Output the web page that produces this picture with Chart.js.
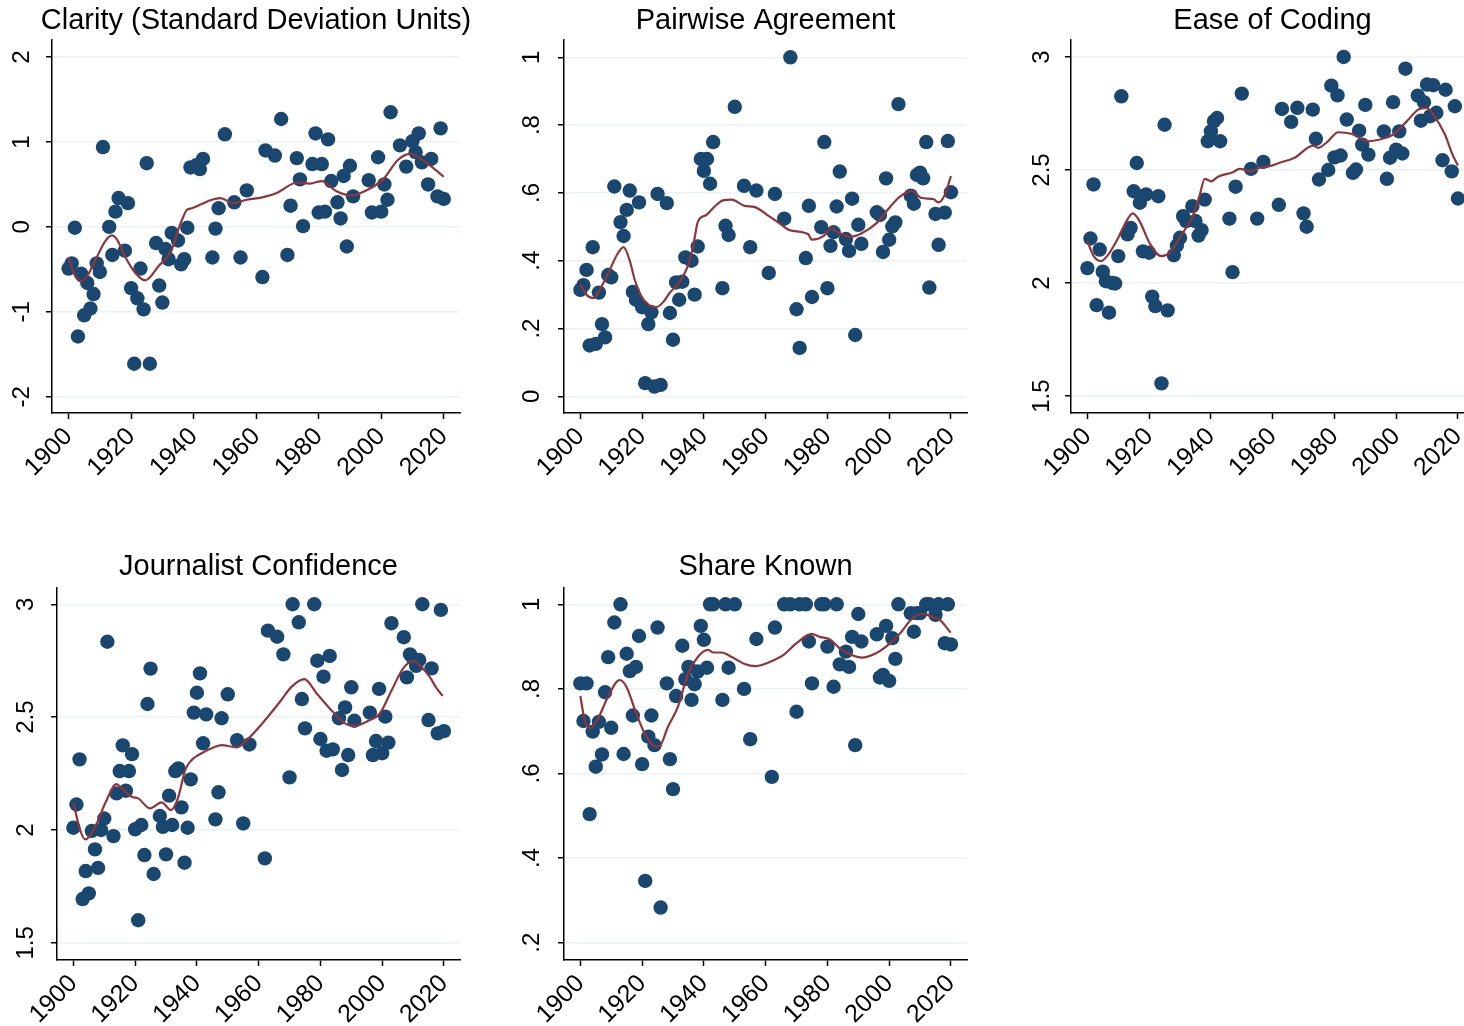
<!DOCTYPE html>
<html>
<head>
<meta charset="utf-8">
<script src="https://cdn.jsdelivr.net/npm/chart.js@4.4.0/dist/chart.umd.min.js"></script>
<style>
  html, body { margin: 0; padding: 0; background: #fff; overflow: hidden; }
  #page { position: relative; width: 1464px; height: 1026px; }
  canvas { position: absolute; }
</style>
</head>
<body>
<div id="page">
  <canvas id="clarity" width="490" height="500" style="left:0px;top:0px"></canvas>
  <canvas id="pairwise" width="490" height="500" style="left:500px;top:0px"></canvas>
  <canvas id="ease" width="480" height="500" style="left:1010px;top:0px"></canvas>
  <canvas id="journalist" width="490" height="480" style="left:0px;top:546px"></canvas>
  <canvas id="share" width="490" height="480" style="left:500px;top:546px"></canvas>
</div>
<script>
// x axis ticks (shared)
const yearTicks = [1900, 1920, 1940, 1960, 1980, 2000, 2020];
const yearTickLabels = ['1900', '1920', '1940', '1960', '1980', '2000', '2020'];

// Clarity (Standard Deviation Units)
const clarityYears = [1900, 1901, 1902, 1903, 1904, 1905, 1906, 1907, 1908, 1909, 1910, 1911, 1913, 1914, 1915, 1916, 1918, 1919, 1920, 1921,
  1922, 1923, 1924, 1925, 1926, 1928, 1929, 1930, 1931, 1932, 1933, 1935, 1936, 1937, 1938, 1939, 1941, 1942, 1943, 1946,
  1947, 1948, 1950, 1953, 1955, 1957, 1962, 1963, 1966, 1968, 1970, 1971, 1973, 1974, 1975, 1978, 1979, 1980, 1981, 1982,
  1983, 1984, 1986, 1987, 1988, 1989, 1990, 1991, 1996, 1997, 1999, 2000, 2001, 2002, 2003, 2006, 2008, 2010, 2011, 2012,
  2013, 2015, 2016, 2018, 2019, 2020];
const clarityValues = [-0.49, -0.43, -0.01, -1.29, -0.55, -1.04, -0.66, -0.96, -0.79, -0.43, -0.53, 0.94, 0.00, -0.33, 0.18, 0.34, -0.28, 0.28, -0.72, -1.61,
  -0.84, -0.49, -0.97, 0.75, -1.61, -0.19, -0.69, -0.89, -0.26, -0.38, -0.07, -0.16, -0.44, -0.38, -0.01, 0.70, 0.73, 0.68, 0.80, -0.36,
  -0.02, 0.22, 1.09, 0.29, -0.36, 0.43, -0.59, 0.90, 0.84, 1.27, -0.33, 0.25, 0.81, 0.56, 0.01, 0.74, 1.10, 0.17, 0.74, 0.18,
  1.03, 0.54, 0.29, 0.10, 0.60, -0.23, 0.72, 0.36, 0.55, 0.17, 0.82, 0.18, 0.50, 0.32, 1.35, 0.96, 0.71, 1.01, 0.88, 1.10,
  0.76, 0.50, 0.80, 0.36, 1.16, 0.33];
const clarityFitYears = [1900, 1901.6, 1903.7, 1905.9, 1909.1, 1911.7, 1913.9, 1915.5, 1918.1, 1921.3, 1924.5, 1926.1, 1928.8, 1930.9, 1933, 1935.1,
  1936.7, 1937.8, 1939.4, 1942.6, 1945.8, 1948.5, 1952.7, 1957, 1962.3, 1966.6, 1973, 1977.2, 1981, 1985.7, 1990.5, 1995.8,
  2000.6, 2005.4, 2009.2, 2012.4, 2016.1, 2020];
const clarityFit = [-0.36, -0.54, -0.64, -0.58, -0.35, -0.17, -0.10, -0.15, -0.35, -0.54, -0.63, -0.59, -0.46, -0.38, -0.27, -0.03,
  0.12, 0.20, 0.22, 0.27, 0.32, 0.34, 0.28, 0.32, 0.35, 0.40, 0.52, 0.51, 0.54, 0.42, 0.37, 0.44,
  0.56, 0.79, 0.86, 0.81, 0.71, 0.59];
const clarityTicks = [-2, -1, 0, 1, 2];
const clarityTickLabels = ['-2', '-1', '0', '1', '2'];

// Pairwise Agreement
const pairwiseYears = [1900, 1901, 1902, 1903, 1904, 1905, 1906, 1907, 1908, 1909, 1910, 1911, 1913, 1914, 1915, 1916, 1917, 1918, 1919, 1920,
  1921, 1922, 1923, 1924, 1925, 1926, 1928, 1929, 1930, 1931, 1932, 1933, 1934, 1936, 1937, 1938, 1939, 1940, 1941, 1942,
  1943, 1946, 1947, 1948, 1950, 1953, 1955, 1957, 1961, 1963, 1966, 1968, 1970, 1971, 1973, 1974, 1975, 1978, 1979, 1980,
  1981, 1982, 1983, 1984, 1986, 1987, 1988, 1989, 1990, 1991, 1996, 1997, 1998, 1999, 2000, 2001, 2002, 2003, 2007, 2008,
  2009, 2010, 2011, 2012, 2013, 2015, 2016, 2018, 2019, 2020];
const pairwiseValues = [0.314, 0.328, 0.373, 0.150, 0.44, 0.155, 0.306, 0.213, 0.174, 0.358, 0.351, 0.619, 0.514, 0.473, 0.55, 0.607, 0.308, 0.285, 0.572, 0.263,
  0.039, 0.213, 0.248, 0.029, 0.597, 0.034, 0.57, 0.246, 0.167, 0.336, 0.285, 0.338, 0.41, 0.40, 0.30, 0.442, 0.70, 0.665, 0.70, 0.627,
  0.75, 0.319, 0.503, 0.476, 0.854, 0.621, 0.44, 0.607, 0.364, 0.597, 0.524, 1.0, 0.257, 0.143, 0.408, 0.562, 0.293, 0.499, 0.75, 0.319,
  0.444, 0.484, 0.56, 0.663, 0.464, 0.429, 0.583, 0.181, 0.506, 0.45, 0.543, 0.535, 0.426, 0.643, 0.462, 0.501, 0.513, 0.862, 0.592, 0.568,
  0.653, 0.66, 0.643, 0.75, 0.321, 0.538, 0.447, 0.542, 0.753, 0.602];
const pairwiseFitYears = [1900, 1902, 1904.1, 1906, 1909.5, 1912, 1914, 1916, 1917.6, 1919.5, 1921.4, 1924.6, 1927, 1928.9, 1931.5, 1933.8,
  1935, 1936.5, 1938.1, 1940.8, 1943.5, 1946.2, 1948.9, 1953.2, 1956.5, 1961.3, 1964.5, 1967.8, 1973.8, 1974.9, 1979.2, 1981,
  1983, 1987.8, 1991.1, 1995.9, 2000.2, 2003.5, 2007.3, 2010.5, 2014.3, 2015.9, 2018, 2020];
const pairwiseFit = [0.33, 0.30, 0.29, 0.31, 0.373, 0.42, 0.44, 0.40, 0.344, 0.30, 0.275, 0.263, 0.28, 0.305, 0.33, 0.364,
  0.39, 0.442, 0.516, 0.535, 0.56, 0.578, 0.58, 0.562, 0.558, 0.53, 0.51, 0.49, 0.478, 0.462, 0.476, 0.496,
  0.486, 0.471, 0.481, 0.511, 0.558, 0.589, 0.606, 0.585, 0.582, 0.572, 0.594, 0.65];
const pairwiseTicks = [0, 0.2, 0.4, 0.6, 0.8, 1];
const pairwiseTickLabels = ['0', '.2', '.4', '.6', '.8', '1'];

// Ease of Coding
const easeYears = [1900, 1901, 1902, 1903, 1904, 1905, 1906, 1907, 1908, 1909, 1910, 1911, 1913, 1914, 1915, 1916, 1917, 1918, 1919, 1920,
  1921, 1922, 1923, 1924, 1925, 1926, 1928, 1929, 1930, 1931, 1932, 1934, 1935, 1936, 1937, 1938, 1939, 1940, 1941, 1942,
  1943, 1946, 1947, 1948, 1950, 1953, 1955, 1957, 1962, 1963, 1966, 1968, 1970, 1971, 1973, 1974, 1975, 1978, 1979, 1980,
  1981, 1982, 1983, 1984, 1986, 1987, 1988, 1989, 1990, 1991, 1996, 1997, 1998, 1999, 2000, 2001, 2002, 2003, 2007, 2008,
  2009, 2010, 2011, 2012, 2013, 2015, 2016, 2018, 2019, 2020];
const easeValues = [2.066, 2.197, 2.436, 1.902, 2.148, 2.05, 2.008, 1.869, 2.0, 1.998, 2.119, 2.826, 2.215, 2.244, 2.406, 2.531, 2.355, 2.14, 2.392, 2.134,
  1.94, 1.898, 2.384, 1.556, 2.70, 1.879, 2.123, 2.166, 2.20, 2.296, 2.274, 2.34, 2.274, 2.21, 2.234, 2.369, 2.627, 2.671, 2.716, 2.73,
  2.627, 2.285, 2.048, 2.426, 2.838, 2.505, 2.285, 2.536, 2.346, 2.77, 2.713, 2.775, 2.308, 2.249, 2.767, 2.638, 2.458, 2.50, 2.873, 2.556,
  2.83, 2.564, 3.0, 2.723, 2.487, 2.502, 2.674, 2.612, 2.788, 2.568, 2.671, 2.461, 2.554, 2.80, 2.59, 2.671, 2.573, 2.948, 2.829, 2.718,
  2.80, 2.878, 2.738, 2.875, 2.753, 2.543, 2.855, 2.494, 2.782, 2.374];
const easeFitYears = [1900, 1902, 1904.4, 1907, 1910, 1912.5, 1914.7, 1916.9, 1920.1, 1923.9, 1926.6, 1930.9, 1934.2, 1936.3, 1938, 1940.1,
  1942.3, 1947.1, 1949.3, 1953.1, 1955.8, 1959, 1962.3, 1967.1, 1973.1, 1974.7, 1977.9, 1981.2, 1985.5, 1990.9, 1995.8, 1999,
  2003.4, 2007.1, 2009.9, 2012, 2015.8, 2018, 2020];
const easeFit = [2.185, 2.12, 2.097, 2.13, 2.20, 2.27, 2.308, 2.274, 2.178, 2.119, 2.134, 2.222, 2.296, 2.384, 2.461, 2.45,
  2.47, 2.49, 2.505, 2.494, 2.51, 2.517, 2.532, 2.554, 2.608, 2.598, 2.627, 2.667, 2.66, 2.627, 2.639, 2.657,
  2.715, 2.767, 2.775, 2.745, 2.657, 2.576, 2.52];
const scoreTicks = [1.5, 2, 2.5, 3];
const scoreTickLabels = ['1.5', '2', '2.5', '3'];

// Journalist Confidence
const journalistYears = [1900, 1901, 1902, 1903, 1904, 1905, 1906, 1907, 1908, 1909, 1910, 1911, 1913, 1914, 1915, 1916, 1917, 1918, 1919, 1920,
  1921, 1922, 1923, 1924, 1925, 1926, 1928, 1929, 1930, 1931, 1932, 1933, 1934, 1935, 1936, 1937, 1938, 1939, 1940, 1941,
  1942, 1943, 1946, 1947, 1948, 1950, 1953, 1955, 1957, 1962, 1963, 1966, 1968, 1970, 1971, 1973, 1974, 1975, 1978, 1979,
  1980, 1981, 1982, 1983, 1984, 1986, 1987, 1988, 1989, 1990, 1991, 1996, 1997, 1998, 1999, 2000, 2001, 2002, 2003, 2007,
  2008, 2009, 2010, 2011, 2012, 2013, 2015, 2016, 2018, 2019, 2020];
const journalistValues = [2.01, 2.113, 2.313, 1.694, 1.818, 1.719, 1.996, 1.914, 1.832, 2.0, 2.051, 2.834, 1.973, 2.162, 2.261, 2.375, 2.174, 2.261, 2.336, 2.003,
  1.60, 2.022, 1.889, 2.558, 2.715, 1.805, 2.062, 2.014, 1.892, 2.152, 2.022, 2.261, 2.273, 2.10, 1.855, 2.01, 2.224, 2.52, 2.608, 2.694,
  2.384, 2.512, 2.047, 2.167, 2.495, 2.601, 2.398, 2.029, 2.379, 1.874, 2.883, 2.856, 2.778, 2.233, 3.0, 2.92, 2.58, 2.45, 3.0, 2.75,
  2.403, 2.679, 2.351, 2.771, 2.357, 2.495, 2.266, 2.543, 2.332, 2.632, 2.484, 2.52, 2.332, 2.394, 2.625, 2.34, 2.502, 2.387, 2.916, 2.854,
  2.676, 2.778, 2.76, 2.727, 2.753, 3.0, 2.487, 2.716, 2.428, 2.975, 2.438];
const journalistFitYears = [1900, 1902.2, 1903.8, 1907.6, 1910.3, 1914, 1915.7, 1918.9, 1921, 1924.8, 1928.6, 1931.6, 1934, 1936.2, 1938.1, 1940.5,
  1945.9, 1948, 1952.9, 1956.7, 1958.8, 1962.6, 1966.9, 1970.7, 1974.8, 1978.8, 1983.7, 1988, 1990.6, 1995.5, 1999.3, 2003.1,
  2006.8, 2010.1, 2012.8, 2015.5, 2017.6, 2019.6];
const journalistFit = [2.12, 2.0, 1.958, 2.03, 2.118, 2.203, 2.184, 2.147, 2.14, 2.096, 2.122, 2.088, 2.147, 2.265, 2.307, 2.332,
  2.369, 2.376, 2.366, 2.406, 2.435, 2.495, 2.568, 2.635, 2.668, 2.605, 2.528, 2.472, 2.46, 2.484, 2.517, 2.62,
  2.716, 2.749, 2.721, 2.676, 2.628, 2.594];

// Share Known
const shareYears = [1900, 1901, 1902, 1903, 1904, 1905, 1906, 1907, 1908, 1909, 1910, 1911, 1913, 1914, 1915, 1916, 1917, 1918, 1919, 1920,
  1921, 1922, 1923, 1924, 1925, 1926, 1928, 1929, 1930, 1931, 1933, 1934, 1935, 1936, 1937, 1938, 1939, 1940, 1941, 1942,
  1943, 1946, 1947, 1948, 1950, 1953, 1955, 1957, 1962, 1963, 1966, 1968, 1970, 1971, 1973, 1974, 1975, 1978, 1979, 1980,
  1982, 1983, 1984, 1986, 1987, 1988, 1989, 1990, 1991, 1996, 1997, 1998, 1999, 2000, 2001, 2002, 2003, 2007, 2008, 2009,
  2010, 2012, 2013, 2015, 2016, 2018, 2019, 2020];
const shareValues = [0.813, 0.724, 0.813, 0.504, 0.699, 0.616, 0.722, 0.645, 0.792, 0.875, 0.708, 0.957, 1.0, 0.646, 0.883, 0.842, 0.737, 0.852, 0.925, 0.622,
  0.346, 0.687, 0.737, 0.667, 0.945, 0.283, 0.813, 0.634, 0.563, 0.783, 0.902, 0.823, 0.852, 0.774, 0.811, 0.841, 0.949, 0.916, 0.85, 1.0,
  1.0, 0.774, 1.0, 0.85, 1.0, 0.80, 0.681, 0.918, 0.592, 0.945, 1.0, 1.0, 0.746, 1.0, 1.0, 0.912, 0.813, 1.0, 1.0, 0.90,
  0.805, 1.0, 0.858, 0.888, 0.852, 0.923, 0.667, 0.977, 0.912, 0.929, 0.827, 0.833, 0.949, 0.819, 0.92, 0.871, 1.0, 0.979, 0.935, 0.979,
  0.979, 1.0, 1.0, 0.975, 1.0, 0.908, 1.0, 0.905];
const shareFitYears = [1900, 1901.4, 1903, 1905.7, 1909, 1912.7, 1914.9, 1918.1, 1920.8, 1923.5, 1925.4, 1928.4, 1931.6, 1934.9, 1938.1, 1941.3,
  1943, 1945.7, 1948.9, 1953.2, 1956.8, 1959, 1962.4, 1965.7, 1970, 1974.9, 1977.5, 1980.8, 1984, 1987.8, 1991.1, 1995.4,
  1999.7, 2003.5, 2007.8, 2011, 2014.3, 2016.4, 2019.9];
const shareFit = [0.783, 0.726, 0.707, 0.73, 0.782, 0.821, 0.805, 0.742, 0.695, 0.667, 0.663, 0.711, 0.758, 0.837, 0.876, 0.892,
  0.886, 0.886, 0.876, 0.859, 0.854, 0.857, 0.867, 0.88, 0.908, 0.93, 0.923, 0.917, 0.896, 0.88, 0.874, 0.883,
  0.904, 0.931, 0.969, 0.977, 0.969, 0.963, 0.933];
const shareTicks = [0.2, 0.4, 0.6, 0.8, 1];
const shareTickLabels = ['.2', '.4', '.6', '.8', '1'];

const FONT = '"Liberation Sans", Arial, sans-serif';
const NAVY = '#1a476f';
const MAROON = '#90353b';
const GRID = '#eaf2f3';

function toPoints(xs, ys) {
  return xs.map((x, i) => ({ x: x, y: ys[i] }));
}

// draws the panel title centred over the plot region
const panelTitle = {
  id: 'panelTitle',
  afterDraw(chart, args, opts) {
    const { ctx, chartArea } = chart;
    ctx.save();
    ctx.font = '29px ' + FONT;
    ctx.fillStyle = '#000';
    ctx.textAlign = 'center';
    ctx.textBaseline = 'middle';
    ctx.fillText(opts.text, (chartArea.left + chartArea.right) / 2, opts.y);
    ctx.restore();
  }
};

function makePanel(id, p) {
  const ctx = document.getElementById(id).getContext('2d');
  return new Chart(ctx, {
    type: 'scatter',
    data: {
      datasets: [{
        type: 'line',
        data: toPoints(p.fitYears, p.fit),
        borderColor: MAROON,
        borderWidth: 2.2,
        pointRadius: 0,
        fill: false,
        cubicInterpolationMode: 'monotone'
      }, {
        data: toPoints(p.years, p.values),
        backgroundColor: NAVY,
        borderWidth: 0,
        pointRadius: 7.2
      }]
    },
    options: {
      responsive: false,
      animation: false,
      devicePixelRatio: 1,
      layout: { padding: { left: 0, top: p.top, right: p.right, bottom: 0 } },
      plugins: {
        legend: { display: false },
        tooltip: { enabled: false },
        panelTitle: { text: p.title, y: 21 }
      },
      scales: {
        x: {
          type: 'linear',
          min: 1894.7,
          max: 2025.2,
          afterBuildTicks: s => { s.ticks = yearTicks.map(v => ({ value: v })); },
          afterFit: s => { s.height = p.xHeight; s.paddingLeft = 0; s.paddingRight = 0; },
          grid: { display: true, drawOnChartArea: false, drawTicks: true, tickLength: 6, tickColor: '#000', tickWidth: 1.5 },
          border: { display: true, color: '#000', width: 1.5 },
          ticks: {
            autoSkip: false, minRotation: 45, maxRotation: 45, padding: 3, color: '#000', font: { family: FONT, size: 25 },
            callback: (v, i) => yearTickLabels[i]
          }
        },
        y: {
          type: 'linear',
          min: p.min,
          max: p.max,
          afterBuildTicks: s => { s.ticks = p.ticks.map(v => ({ value: v })); },
          afterFit: s => { s.width = p.yWidth; s.paddingTop = 0; s.paddingBottom = 0; },
          grid: { color: GRID, lineWidth: 1.5, tickLength: 6, tickColor: '#000', tickWidth: 1.5 },
          border: { display: true, color: '#000', width: 1.5 },
          ticks: {
            autoSkip: false, minRotation: 90, maxRotation: 90, crossAlign: 'center', padding: p.yPad,
            color: '#000', font: { family: FONT, size: 24 },
            callback: (v, i) => p.tickLabels[i]
          }
        }
      }
    },
    plugins: [panelTitle]
  });
}

makePanel('clarity', {
  title: 'Clarity (Standard Deviation Units)',
  years: clarityYears, values: clarityValues, fitYears: clarityFitYears, fit: clarityFit,
  ticks: clarityTicks, tickLabels: clarityTickLabels, min: -2.19, max: 2.2,
  top: 40, right: 30, yWidth: 52, xHeight: 87, yPad: 13
});
makePanel('pairwise', {
  title: 'Pairwise Agreement',
  years: pairwiseYears, values: pairwiseValues, fitYears: pairwiseFitYears, fit: pairwiseFit,
  ticks: pairwiseTicks, tickLabels: pairwiseTickLabels, min: -0.049, max: 1.051,
  top: 40, right: 23, yWidth: 64, xHeight: 87, yPad: 16
});
makePanel('ease', {
  title: 'Ease of Coding',
  years: easeYears, values: easeValues, fitYears: easeFitYears, fit: easeFit,
  ticks: scoreTicks, tickLabels: scoreTickLabels, min: 1.425, max: 3.075,
  top: 40, right: 16, yWidth: 61, xHeight: 87, yPad: 6
});
makePanel('journalist', {
  title: 'Journalist Confidence',
  years: journalistYears, values: journalistValues, fitYears: journalistFitYears, fit: journalistFit,
  ticks: scoreTicks, tickLabels: scoreTickLabels, min: 1.424, max: 3.072,
  top: 42, right: 30, yWidth: 57, xHeight: 66, yPad: 8
});
makePanel('share', {
  title: 'Share Known',
  years: shareYears, values: shareValues, fitYears: shareFitYears, fit: shareFit,
  ticks: shareTicks, tickLabels: shareTickLabels, min: 0.159, max: 1.0385,
  top: 42, right: 23, yWidth: 64, xHeight: 66, yPad: 16
});
</script>
</body>
</html>
